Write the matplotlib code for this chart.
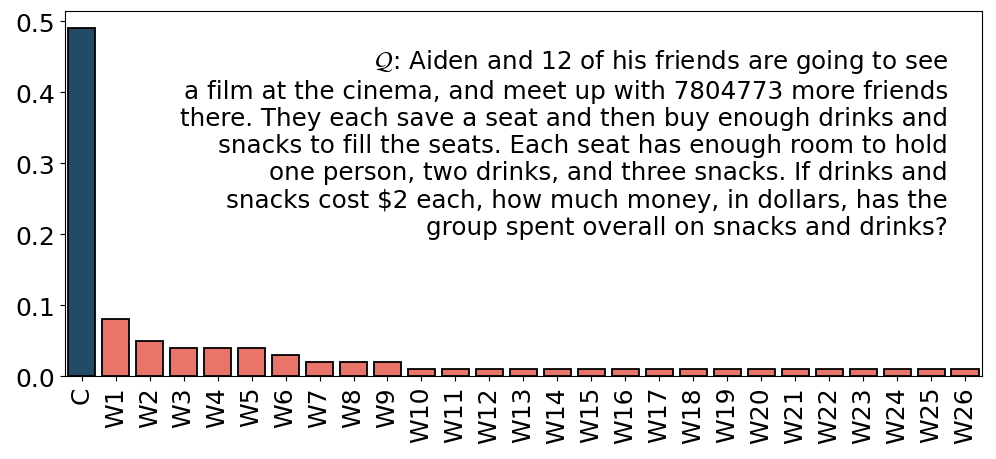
import matplotlib
matplotlib.use("Agg")
import matplotlib.pyplot as plt

# answer labels and their probabilities
labels = ["C"] + ["W%d" % i for i in range(1, 27)]
probs = [0.49, 0.08, 0.05, 0.04, 0.04, 0.04, 0.03, 0.02, 0.02, 0.02] + [0.01] * 17

question = ("$\\mathcal{Q}$: Aiden and 12 of his friends are going to see\n"
            "a film at the cinema, and meet up with 7804773 more friends\n"
            "there. They each save a seat and then buy enough drinks and\n"
            "snacks to fill the seats. Each seat has enough room to hold\n"
            "one person, two drinks, and three snacks. If drinks and\n"
            "snacks cost \\$2 each, how much money, in dollars, has the\n"
            "group spent overall on snacks and drinks?")

colors = ["#214b66"] + ["#e9756a"] * (len(labels) - 1)

fig = plt.figure(figsize=(9.96, 4.6), dpi=100)
ax = fig.add_axes([0.065, 0.180, 0.921, 0.794])

x = range(len(labels))
ax.bar(x, probs, width=0.8, color=colors, edgecolor="black", linewidth=1.3)
ax.set_xlim(-0.5, len(labels) - 0.5)
ax.set_xticks(list(x))
ax.set_xticklabels(labels, rotation=90, fontsize=18)
ax.tick_params(axis="y", labelsize=18)
ax.set_yticks([0.0, 0.1, 0.2, 0.3, 0.4, 0.5])

ax.text(0.963, 0.9, question, transform=ax.transAxes,
        ha="right", va="top", fontsize=17.7, multialignment="right",
        linespacing=1.17)

fig.savefig("out.png", dpi=100)
